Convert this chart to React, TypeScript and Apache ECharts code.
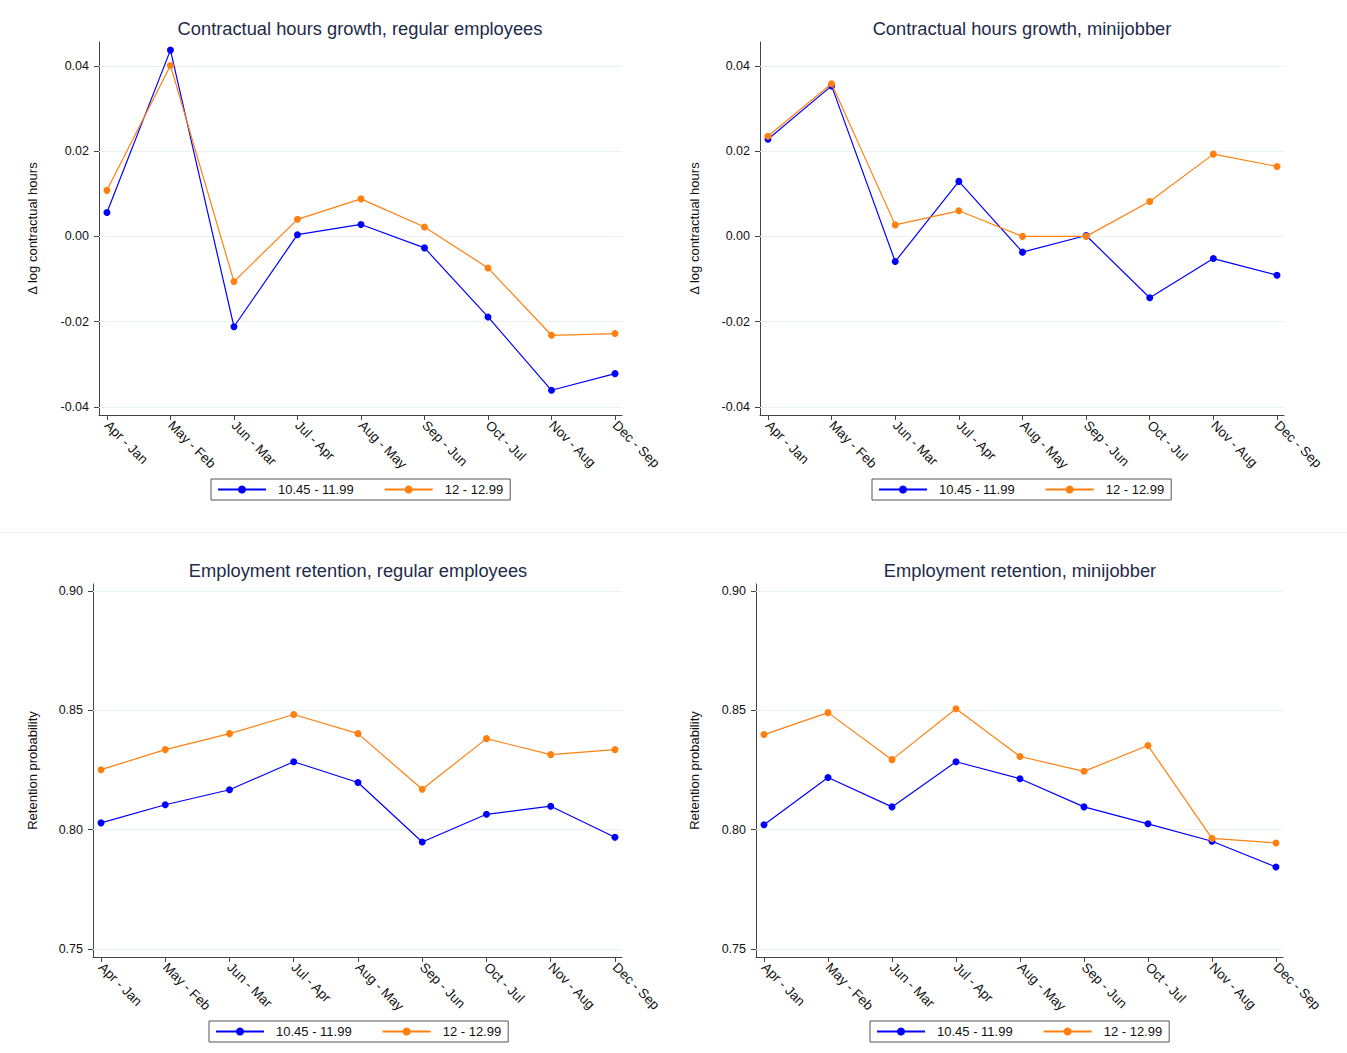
import React, { useEffect, useRef } from "react";
import * as echarts from "echarts";

const categories = ["Apr - Jan", "May - Feb", "Jun - Mar", "Jul - Apr", "Aug - May", "Sep - Jun", "Oct - Jul", "Nov - Aug", "Dec - Sep"];
const seriesNames = ["10.45 - 11.99", "12 - 12.99"];

const hoursRegularLow = [0.0056, 0.0437, -0.0212, 0.0004, 0.0028, -0.0027, -0.0189, -0.0361, -0.0322];
const hoursRegularHigh = [0.0108, 0.0401, -0.0106, 0.004, 0.0088, 0.0022, -0.0074, -0.0232, -0.0228];
const hoursMiniLow = [0.0228, 0.0353, -0.0059, 0.0129, -0.0037, 0.0002, -0.0144, -0.0052, -0.0091];
const hoursMiniHigh = [0.0235, 0.0358, 0.0027, 0.006, 0.0, 0.0, 0.0082, 0.0193, 0.0164];
const retRegularLow = [0.8028, 0.8104, 0.8167, 0.8284, 0.8197, 0.7948, 0.8064, 0.8098, 0.7968];
const retRegularHigh = [0.8251, 0.8335, 0.8402, 0.8482, 0.8402, 0.8169, 0.8381, 0.8314, 0.8335];
const retMiniLow = [0.802, 0.8218, 0.8095, 0.8284, 0.8213, 0.8095, 0.8024, 0.7951, 0.7843];
const retMiniHigh = [0.8398, 0.849, 0.8293, 0.8506, 0.8306, 0.8244, 0.8352, 0.7963, 0.7944];

const hoursTicks = [-0.04, -0.02, 0, 0.02, 0.04];
const retTicks = [0.75, 0.8, 0.85, 0.9];

const titles = [
  "Contractual hours growth, regular employees",
  "Contractual hours growth, minijobber",
  "Employment retention, regular employees",
  "Employment retention, minijobber",
];
const yNames = ["\u0394 log contractual hours", "\u0394 log contractual hours", "Retention probability", "Retention probability"];

const BLUE = "#0000ff";
const ORANGE = "#ff8010";
const FONT = "'Liberation Sans', Arial, Helvetica, sans-serif";

export default function App() {
  const ref = useRef<HTMLDivElement>(null);
  useEffect(() => {
    if (!ref.current) return;
    const chart = echarts.init(ref.current, undefined, { renderer: "svg" });

    const panels = [
      { grid: { left: 99, top: 42, width: 523, height: 373 }, title: [355, 14], legend: [211, 479], yr: [-0.0419, 0.0456], ticks: hoursTicks, nameGap: 60, low: hoursRegularLow, high: hoursRegularHigh },
      { grid: { left: 760, top: 42, width: 524, height: 373 }, title: [1017, 14], legend: [872, 479], yr: [-0.0419, 0.0456], ticks: hoursTicks, nameGap: 59, low: hoursMiniLow, high: hoursMiniHigh },
      { grid: { left: 93, top: 584, width: 529, height: 373 }, title: [353, 556], legend: [209, 1021], yr: [0.7466, 0.9029], ticks: retTicks, nameGap: 54, low: retRegularLow, high: retRegularHigh },
      { grid: { left: 756, top: 584, width: 527, height: 373 }, title: [1015, 556], legend: [870, 1021], yr: [0.7466, 0.9029], ticks: retTicks, nameGap: 55, low: retMiniLow, high: retMiniHigh },
    ];

    const xIdx = categories.map((_, i) => i);
    const axisLineStyle = { color: "#444", width: 1 };

    const option: any = {
      animation: false,
      backgroundColor: "#ffffff",
      textStyle: { fontFamily: FONT },
      title: panels.map((p, i) => ({
        text: titles[i],
        left: p.title[0],
        top: p.title[1],
        textAlign: "center",
        textStyle: { fontFamily: FONT, fontSize: 18.3, fontWeight: "normal", color: "#1e2b4a" },
      })),
      grid: panels.map((p) => ({ ...p.grid, containLabel: false })),
      legend: panels.map((p) => ({
        data: seriesNames,
        left: p.legend[0],
        top: p.legend[1],
        orient: "horizontal",
        itemWidth: 48,
        itemHeight: 10,
        itemGap: 30,
        padding: [4, 7, 4, 6],
        borderColor: "#555",
        borderWidth: 1,
        selectedMode: false,
        textStyle: { fontFamily: FONT, fontSize: 13, color: "#111", padding: [0, 0, 0, 7] },
      })),
      xAxis: panels.map((p, i) => ({
        type: "value",
        gridIndex: i,
        min: -0.125,
        max: 8.11,
        axisLine: { show: true, onZero: false, lineStyle: axisLineStyle },
        axisTick: { show: true, length: 5, customValues: xIdx, lineStyle: axisLineStyle },
        splitLine: { show: false },
        axisLabel: {
          customValues: xIdx,
          rotate: -45,
          margin: 8,
          fontFamily: FONT,
          fontSize: 13.5,
          color: "#111",
          formatter: (v: number) => categories[Math.round(v)] ?? "",
        },
      })),
      yAxis: panels.map((p, i) => ({
        type: "value",
        gridIndex: i,
        min: p.yr[0],
        max: p.yr[1],
        name: yNames[i],
        nameLocation: "middle",
        nameGap: p.nameGap,
        nameTextStyle: { fontFamily: FONT, fontSize: 13, color: "#111" },
        axisLine: { show: true, onZero: false, lineStyle: axisLineStyle },
        axisTick: { show: true, length: 5, customValues: p.ticks, lineStyle: axisLineStyle },
        splitLine: { show: false },
        axisLabel: {
          customValues: p.ticks,
          margin: 10,
          fontFamily: FONT,
          fontSize: 12.5,
          color: "#111",
          formatter: (v: number) => v.toFixed(2),
        },
      })),
      series: panels.flatMap((p, i) => [
        {
          type: "line",
          name: "__grid" + i,
          xAxisIndex: i,
          yAxisIndex: i,
          data: [],
          z: 1,
          silent: true,
          markLine: {
            silent: true,
            z: 1,
            symbol: ["none", "none"],
            label: { show: false },
            lineStyle: { color: "#e9f1f1", width: 1, type: "solid" },
            emphasis: { disabled: true },
            data: p.ticks.map((t) => ({ yAxis: t })),
          },
        },
        {
          type: "line",
          name: seriesNames[0],
          xAxisIndex: i,
          yAxisIndex: i,
          z: 10,
          data: p.low.map((v, k) => [xIdx[k], v]),
          symbol: "circle",
          symbolSize: 7,
          color: BLUE,
          lineStyle: { color: BLUE, width: 1.2 },
          itemStyle: { color: BLUE },
        },
        {
          type: "line",
          name: seriesNames[1],
          xAxisIndex: i,
          yAxisIndex: i,
          z: 11,
          data: p.high.map((v, k) => [xIdx[k], v]),
          symbol: "circle",
          symbolSize: 7,
          color: ORANGE,
          lineStyle: { color: ORANGE, width: 1.2 },
          itemStyle: { color: ORANGE },
        },
      ]),
      graphic: [
        {
          type: "line",
          shape: { x1: 0, y1: 532.5, x2: 1347, y2: 532.5 },
          style: { stroke: "#eef4f4", lineWidth: 1 },
          silent: true,
          z: 0,
        },
      ],
    };

    chart.setOption(option);
    return () => chart.dispose();
  }, []);

  return (
    <div
      ref={ref}
      style={{ position: "fixed", left: 0, top: 0, width: 1347, height: 1053, background: "#fff" }}
    />
  );
}
